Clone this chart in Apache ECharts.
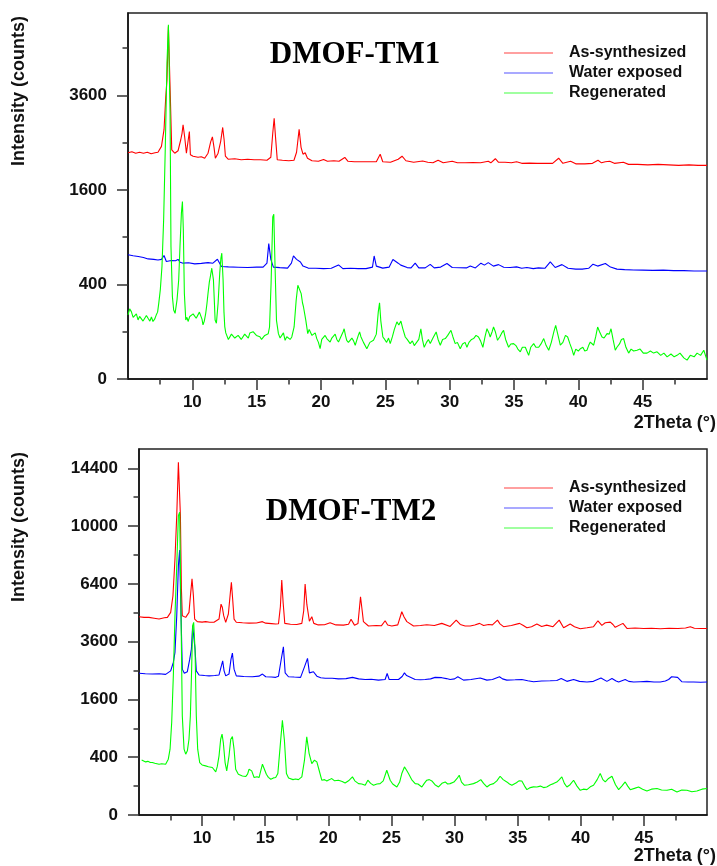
<!DOCTYPE html>
<html>
<head>
<meta charset="utf-8">
<script src="https://cdn.jsdelivr.net/npm/echarts@6/dist/echarts.min.js"></script>
<style>
html,body{margin:0;padding:0;background:#fff;}
#chart{width:717px;height:866px;}
</style>
</head>
<body>
<div id="chart"></div>
<script>
// ---- Data: [2Theta (deg), intensity (counts)] ----
const seriesNames = ['As-synthesized', 'Water exposed', 'Regenerated'];
const panelTitles = ['DMOF-TM1', 'DMOF-TM2'];
const xMajorTicks = [10, 15, 20, 25, 30, 35, 40, 45];
const xMinorTicks = [7.5, 12.5, 17.5, 22.5, 27.5, 32.5, 37.5, 42.5, 47.5];
const tm1YTicks = [0, 400, 1600, 3600];
const tm1YMinor = [100, 900, 2500, 4900];
const tm2YTicks = [0, 400, 1600, 3600, 6400, 10000, 14400];
const tm2YMinor = [100, 900, 2500, 4900, 8100, 12100];

const tm1Red = [[5.0,2290],[5.3,2310],[5.6,2280],[5.9,2300],[6.2,2280],[6.5,2300],[6.8,2270],[7.1,2290],[7.33,2300],[7.6,2420],[7.8,2780],[7.93,3530],[8.03,4010],[8.14,5560],[8.21,5610],[8.29,3570],[8.4,2350],[8.63,2280],[8.89,2330],[9.1,2560],[9.2,2700],[9.28,2890],[9.4,2630],[9.54,2280],[9.67,2250],[9.77,2740],[9.85,2250],[10.06,2220],[10.44,2200],[10.7,2210],[10.96,2180],[11.22,2280],[11.43,2520],[11.56,2620],[11.69,2390],[11.79,2180],[12.0,2280],[12.2,2520],[12.36,2830],[12.47,2560],[12.57,2220],[12.78,2160],[13.3,2170],[13.8,2150],[14.3,2160],[14.8,2150],[15.3,2150],[15.8,2140],[16.1,2200],[16.25,2700],[16.36,3040],[16.47,2600],[16.6,2150],[17.0,2140],[17.5,2130],[17.9,2140],[18.1,2300],[18.3,2790],[18.45,2400],[18.6,2260],[18.77,2290],[18.95,2180],[19.3,2130],[19.8,2120],[20.2,2155],[20.5,2120],[21.0,2130],[21.4,2120],[21.85,2195],[22.1,2120],[22.6,2110],[23.2,2110],[23.8,2110],[24.3,2110],[24.6,2260],[24.8,2110],[25.4,2100],[26.0,2160],[26.3,2220],[26.6,2130],[27.2,2100],[27.9,2125],[28.3,2100],[28.7,2090],[29.1,2140],[29.5,2090],[30.2,2120],[30.6,2090],[31.2,2090],[31.8,2095],[32.4,2090],[33.0,2120],[33.2,2090],[33.55,2170],[33.8,2100],[34.3,2100],[34.8,2090],[35.2,2110],[35.6,2080],[36.2,2085],[36.8,2080],[37.4,2080],[38.0,2080],[38.47,2180],[38.8,2080],[39.4,2120],[39.8,2070],[40.5,2070],[41.1,2080],[41.53,2140],[41.8,2090],[42.1,2110],[42.44,2120],[42.8,2080],[43.5,2100],[43.9,2060],[44.6,2060],[45.4,2050],[46.2,2060],[47.0,2050],[47.8,2040],[48.6,2050],[49.3,2040],[50.0,2040]];

const tm1Blue = [[5.0,690],[5.4,680],[5.8,671],[6.2,660],[6.56,645],[7.0,640],[7.33,634],[7.6,640],[7.8,682],[7.98,617],[8.37,628],[8.7,625],[8.89,640],[9.05,610],[9.28,600],[9.7,605],[10.19,593],[10.7,598],[11.22,606],[11.6,600],[11.95,641],[12.26,566],[12.8,562],[13.56,559],[14.3,556],[15.0,560],[15.5,560],[15.8,600],[15.94,820],[16.1,640],[16.3,560],[16.8,555],[17.4,550],[17.7,600],[17.86,678],[18.1,640],[18.4,613],[18.6,570],[19.0,550],[19.6,548],[20.2,545],[20.8,548],[21.36,582],[21.7,545],[22.3,548],[22.9,545],[23.5,545],[24.0,560],[24.13,677],[24.3,570],[24.8,550],[25.3,560],[25.59,638],[26.0,600],[26.2,580],[26.7,555],[27.0,552],[27.32,600],[27.6,552],[28.1,552],[28.49,588],[28.8,552],[29.3,560],[29.79,596],[30.2,556],[30.8,553],[31.3,552],[31.6,570],[32.0,552],[32.43,600],[32.7,580],[33.0,606],[33.4,570],[33.8,585],[34.2,558],[34.7,556],[35.2,562],[35.6,548],[36.0,556],[36.5,545],[36.9,552],[37.4,548],[37.82,613],[38.2,556],[38.73,585],[39.2,548],[39.8,540],[40.3,540],[40.8,548],[41.14,590],[41.5,570],[42.1,596],[42.5,560],[43.0,540],[43.6,535],[44.3,532],[45.0,530],[45.8,528],[46.6,530],[47.4,525],[48.2,525],[49.0,522],[50.0,522]];

const tm1Green = [[5.0,184],[5.13,220],[5.26,203],[5.4,170],[5.52,165],[5.65,190],[5.78,156],[5.9,175],[6.04,174],[6.17,150],[6.3,156],[6.43,180],[6.56,165],[6.7,150],[6.82,172],[6.94,148],[7.07,160],[7.2,184],[7.3,200],[7.39,256],[7.51,355],[7.64,566],[7.77,1133],[7.9,2418],[8.03,4468],[8.14,5613],[8.19,5613],[8.27,3161],[8.34,785],[8.45,304],[8.55,213],[8.66,193],[8.81,280],[8.94,439],[9.04,785],[9.15,1230],[9.23,1409],[9.3,995],[9.38,329],[9.49,156],[9.58,170],[9.67,148],[9.8,175],[9.93,165],[10.06,190],[10.19,184],[10.3,165],[10.44,174],[10.55,200],[10.65,193],[10.75,160],[10.83,131],[10.93,150],[11.04,193],[11.13,250],[11.22,329],[11.32,420],[11.4,469],[11.51,549],[11.64,439],[11.72,250],[11.77,156],[11.87,139],[12.0,256],[12.13,501],[12.22,650],[12.29,708],[12.39,440],[12.46,200],[12.52,123],[12.6,95],[12.7,87],[12.8,70],[12.91,74],[13.04,90],[13.17,87],[13.3,75],[13.43,68],[13.56,85],[13.69,80],[13.8,70],[13.94,74],[14.07,90],[14.2,83],[14.35,75],[14.47,95],[14.59,94],[14.72,100],[14.85,100],[14.98,85],[15.11,87],[15.25,80],[15.38,70],[15.5,74],[15.63,85],[15.76,87],[15.9,92],[16.0,121],[16.12,407],[16.25,1176],[16.33,1215],[16.43,562],[16.54,154],[16.69,92],[16.82,75],[16.95,79],[17.08,95],[17.21,67],[17.34,80],[17.47,85],[17.6,70],[17.73,79],[17.91,121],[18.07,277],[18.2,393],[18.33,379],[18.46,326],[18.56,260],[18.64,232],[18.72,243],[18.82,154],[18.97,92],[19.08,110],[19.16,106],[19.3,85],[19.42,79],[19.55,95],[19.67,73],[19.8,60],[19.93,41],[20.06,70],[20.19,67],[20.32,85],[20.45,73],[20.58,80],[20.71,61],[20.84,75],[20.97,79],[21.1,90],[21.23,70],[21.36,61],[21.5,75],[21.62,79],[21.72,100],[21.8,113],[21.9,85],[22.0,67],[22.13,60],[22.27,56],[22.4,75],[22.53,65],[22.66,51],[22.8,70],[22.9,85],[23.0,99],[23.1,80],[23.3,60],[23.56,41],[23.8,60],[24.08,67],[24.3,90],[24.45,200],[24.55,259],[24.65,150],[24.81,79],[24.95,70],[25.1,60],[25.25,75],[25.38,56],[25.55,80],[25.7,110],[25.9,146],[26.05,130],[26.21,150],[26.35,115],[26.55,79],[26.7,70],[26.93,56],[27.1,65],[27.25,50],[27.4,45],[27.6,70],[27.76,113],[27.88,70],[28.02,45],[28.2,60],[28.35,70],[28.49,56],[28.7,75],[28.95,99],[29.1,70],[29.27,51],[29.45,70],[29.66,73],[29.85,85],[30.1,106],[30.25,80],[30.43,56],[30.6,60],[30.82,41],[31.0,55],[31.2,60],[31.34,45],[31.5,60],[31.7,70],[31.86,73],[32.05,85],[32.24,79],[32.4,65],[32.58,45],[32.75,80],[32.9,113],[33.05,95],[33.15,79],[33.3,100],[33.41,121],[33.55,100],[33.72,67],[33.9,80],[34.05,95],[34.19,106],[34.35,70],[34.58,45],[34.75,55],[34.97,56],[35.15,50],[35.3,40],[35.49,33],[35.65,45],[35.88,45],[36.0,35],[36.14,25],[36.3,45],[36.53,56],[36.7,45],[36.92,45],[37.1,55],[37.31,73],[37.5,50],[37.7,37],[37.9,60],[38.1,100],[38.24,129],[38.4,90],[38.6,51],[38.8,60],[39.0,85],[39.17,79],[39.35,55],[39.5,40],[39.64,25],[39.8,40],[40.0,35],[40.16,41],[40.35,45],[40.5,35],[40.67,37],[40.8,50],[40.93,61],[41.05,55],[41.19,51],[41.35,80],[41.5,121],[41.65,100],[41.84,79],[42.0,75],[42.23,92],[42.4,90],[42.54,113],[42.7,70],[42.87,37],[43.0,45],[43.2,55],[43.35,70],[43.52,73],[43.7,45],[43.91,30],[44.1,40],[44.3,35],[44.56,37],[44.8,40],[45.05,30],[45.34,30],[45.6,35],[45.85,30],[46.12,33],[46.4,25],[46.65,30],[46.9,22],[47.2,28],[47.45,22],[47.67,25],[47.9,30],[48.2,20],[48.45,16],[48.7,25],[49.0,22],[49.23,30],[49.5,25],[49.75,37],[50.0,16]];

const tm2Red = [[5.0,4710],[5.4,4680],[5.79,4680],[6.2,4640],[6.59,4600],[7.0,4660],[7.25,4680],[7.51,4920],[7.69,5760],[7.85,7850],[7.99,10740],[8.12,14910],[8.2,15060],[8.28,10740],[8.36,6120],[8.43,4760],[8.7,4680],[8.96,4920],[9.1,5940],[9.2,6680],[9.31,5760],[9.41,4600],[9.62,4480],[10.0,4460],[10.28,4480],[10.6,4450],[10.94,4450],[11.34,4600],[11.5,5330],[11.6,5170],[11.71,4760],[11.87,4450],[12.08,4840],[12.24,5940],[12.32,6490],[12.42,5590],[12.53,4600],[12.71,4450],[13.2,4430],[13.72,4410],[14.3,4420],[14.78,4480],[15.04,4410],[15.5,4390],[15.83,4370],[16.05,4380],[16.2,5200],[16.31,6620],[16.42,5400],[16.55,4400],[17.0,4360],[17.5,4350],[17.9,4400],[18.05,5000],[18.16,6390],[18.3,5300],[18.5,4500],[18.69,4710],[18.85,4400],[19.2,4330],[19.7,4340],[20.14,4430],[20.6,4330],[21.2,4320],[21.6,4360],[21.8,4590],[22.07,4320],[22.35,4400],[22.55,5710],[22.7,4900],[22.78,4480],[23.18,4280],[23.8,4300],[24.2,4290],[24.5,4520],[24.7,4330],[25.03,4280],[25.5,4330],[25.82,4950],[26.0,4700],[26.22,4480],[26.75,4280],[27.3,4300],[27.8,4340],[28.4,4300],[28.99,4400],[29.65,4260],[30.13,4550],[30.45,4350],[30.84,4280],[31.24,4280],[31.6,4330],[31.98,4400],[32.3,4300],[32.69,4350],[33.0,4330],[33.4,4550],[33.6,4380],[33.88,4250],[34.5,4300],[35.15,4400],[35.45,4300],[35.73,4200],[36.1,4250],[36.52,4370],[36.9,4260],[37.3,4320],[37.8,4250],[38.29,4550],[38.64,4200],[39.16,4370],[39.5,4250],[39.96,4160],[40.5,4200],[41.01,4250],[41.36,4520],[41.67,4310],[41.94,4430],[42.34,4460],[42.55,4350],[42.73,4220],[43.34,4400],[43.66,4170],[44.3,4190],[44.98,4170],[45.6,4180],[46.3,4160],[47.0,4180],[47.7,4170],[48.3,4190],[48.68,4250],[49.0,4180],[49.5,4170],[50.0,4170]];

const tm2Blue = [[5.0,2410],[5.5,2390],[6.06,2380],[6.6,2390],[7.11,2370],[7.51,2490],[7.72,2790],[7.85,3170],[7.99,4760],[8.12,7450],[8.22,8420],[8.3,5590],[8.43,2550],[8.59,2410],[8.83,2460],[9.02,2910],[9.15,3300],[9.25,4290],[9.33,4370],[9.44,3300],[9.54,2490],[9.76,2350],[10.2,2330],[10.55,2320],[11.0,2330],[11.34,2350],[11.53,2670],[11.63,2850],[11.74,2490],[11.87,2320],[12.13,2380],[12.29,2910],[12.4,3140],[12.53,2550],[12.71,2320],[13.3,2300],[13.98,2290],[14.5,2310],[14.78,2380],[15.04,2290],[15.5,2280],[15.83,2270],[16.05,2310],[16.26,2880],[16.44,3390],[16.58,2420],[16.84,2290],[17.3,2280],[17.8,2270],[18.11,2630],[18.35,2940],[18.5,2420],[18.82,2460],[19.09,2310],[19.4,2260],[19.75,2240],[20.3,2240],[20.8,2220],[21.4,2230],[21.91,2270],[22.4,2220],[22.92,2200],[23.4,2210],[23.97,2180],[24.5,2200],[24.66,2400],[24.82,2200],[25.2,2200],[25.56,2200],[25.85,2300],[26.03,2420],[26.2,2330],[26.35,2290],[26.88,2200],[27.3,2190],[27.67,2200],[28.1,2220],[28.46,2270],[28.99,2260],[29.35,2230],[29.65,2200],[30.0,2220],[30.26,2290],[30.71,2180],[31.3,2200],[32.03,2250],[32.56,2180],[33.0,2200],[33.56,2290],[33.8,2220],[34.14,2180],[34.8,2190],[35.33,2200],[35.8,2160],[36.26,2130],[36.9,2150],[37.58,2160],[38.1,2170],[38.45,2230],[38.9,2140],[39.43,2200],[39.9,2140],[40.49,2120],[41.0,2140],[41.6,2250],[42.07,2140],[42.47,2230],[42.8,2150],[43.0,2120],[43.52,2200],[43.8,2140],[44.19,2120],[44.7,2130],[45.24,2140],[45.8,2120],[46.3,2120],[46.7,2150],[46.96,2200],[47.2,2290],[47.35,2310],[47.67,2270],[48.0,2130],[48.5,2120],[48.94,2120],[49.5,2110],[50.0,2120]];

const tm2Green = [[5.21,364],[5.35,350],[5.53,338],[5.7,345],[5.9,330],[6.06,330],[6.25,320],[6.4,325],[6.59,309],[6.8,315],[6.95,300],[7.11,309],[7.22,320],[7.32,373],[7.46,519],[7.59,1025],[7.72,2324],[7.85,4760],[7.99,7450],[8.12,10740],[8.22,10980],[8.33,4760],[8.43,1178],[8.57,519],[8.7,443],[8.83,493],[8.96,688],[9.07,1178],[9.17,2550],[9.25,4294],[9.33,4446],[9.44,3298],[9.54,1178],[9.65,519],[9.81,329],[10.0,300],[10.28,289],[10.5,280],[10.81,270],[10.95,250],[11.08,223],[11.2,280],[11.34,419],[11.47,688],[11.58,783],[11.68,629],[11.82,330],[11.95,233],[12.13,419],[12.27,688],[12.4,738],[12.53,519],[12.66,251],[12.87,199],[13.19,183],[13.45,177],[13.6,200],[13.72,251],[13.93,233],[14.12,168],[14.35,175],[14.51,168],[14.78,309],[14.91,330],[15.09,199],[15.25,170],[15.44,153],[15.65,165],[15.83,168],[16.0,206],[16.18,556],[16.36,1077],[16.52,670],[16.68,206],[16.85,165],[16.97,159],[17.2,150],[17.4,155],[17.63,150],[17.9,174],[18.11,360],[18.29,732],[18.48,452],[18.69,317],[18.9,360],[19.09,338],[19.27,240],[19.48,145],[19.7,150],[19.88,139],[20.1,150],[20.27,159],[20.5,140],[20.8,145],[21.1,135],[21.33,123],[21.6,140],[21.91,174],[22.1,140],[22.39,118],[22.65,115],[22.92,106],[23.13,145],[23.35,120],[23.58,106],[23.85,115],[24.1,118],[24.35,140],[24.63,240],[24.9,145],[25.1,115],[25.43,94],[25.65,130],[25.82,206],[26.03,277],[26.2,240],[26.35,206],[26.6,150],[26.88,118],[27.1,115],[27.41,94],[27.6,120],[27.8,145],[28.0,150],[28.2,139],[28.45,110],[28.73,94],[29.0,120],[29.26,131],[29.45,115],[29.65,118],[29.95,130],[30.2,160],[30.37,189],[30.55,130],[30.79,106],[31.1,110],[31.5,118],[31.8,130],[32.08,150],[32.3,120],[32.56,94],[32.8,110],[33.09,118],[33.35,140],[33.61,180],[33.85,150],[34.14,131],[34.35,115],[34.54,106],[34.9,125],[35.1,140],[35.33,139],[35.55,100],[35.73,77],[36.0,90],[36.25,95],[36.52,94],[36.8,100],[37.05,90],[37.3,94],[37.6,110],[37.84,118],[38.1,130],[38.3,150],[38.5,174],[38.7,120],[38.9,94],[39.15,110],[39.43,145],[39.7,100],[39.96,73],[40.2,80],[40.49,77],[40.75,95],[41.01,106],[41.3,150],[41.54,206],[41.75,150],[41.94,131],[42.2,160],[42.47,180],[42.75,110],[43.0,77],[43.25,100],[43.52,131],[43.72,100],[43.92,77],[44.25,85],[44.58,94],[44.9,80],[45.24,69],[45.6,80],[46.04,84],[46.4,75],[46.83,73],[47.2,80],[47.62,64],[48.0,75],[48.41,73],[48.8,65],[49.2,69],[49.6,80],[50.0,84]];

// ---- Chart construction ----
const FONT = '"Liberation Sans", Arial, sans-serif';
const AXIS_COLOR = '#111';
const lineColors = ['#ff0000', '#0000ff', '#00ff00'];
const legendColors = ['#ff8080', '#8c8cff', '#80ff80'];
const sq = v => Math.sqrt(v);

const panels = [
  { grid: { left: 128, top: 13, width: 579, height: 366 }, yMax: 77.4,
    yTicks: tm1YTicks, yMinor: tm1YMinor, data: [tm1Red, tm1Blue, tm1Green],
    titlePos: [355, 55], legendTop: 38, yNamePos: [19, 91], xNameY: 423 },
  { grid: { left: 139, top: 449, width: 568, height: 366 }, yMax: 126.7,
    yTicks: tm2YTicks, yMinor: tm2YMinor, data: [tm2Red, tm2Blue, tm2Green],
    titlePos: [351, 512], legendTop: 473, yNamePos: [19, 527], xNameY: 856 }
];

const grids = [], xAxes = [], yAxes = [], series = [], legends = [], graphics = [];

panels.forEach((p, i) => {
  grids.push(Object.assign({ show: true, borderColor: '#222', borderWidth: 1.5, backgroundColor: 'transparent' }, p.grid));
  const xBase = { type: 'value', gridIndex: i, min: 5, max: 50, position: 'bottom', splitLine: { show: false } };
  xAxes.push(Object.assign({}, xBase, {
    axisLine: { show: true, onZero: false, lineStyle: { color: AXIS_COLOR, width: 1.5 } },
    axisTick: { show: true, length: 11, customValues: xMajorTicks, lineStyle: { color: '#333', width: 1.5 } },
    axisLabel: { show: true, customValues: xMajorTicks, margin: 15, color: '#111', fontSize: 17, fontWeight: 'bold', fontFamily: FONT }
  }));
  xAxes.push(Object.assign({}, xBase, {
    axisLine: { show: false, onZero: false },
    axisTick: { show: true, length: 5.5, customValues: xMinorTicks, lineStyle: { color: '#333', width: 1.5 } },
    axisLabel: { show: false }
  }));
  const yBase = { type: 'value', gridIndex: i, min: 0, max: p.yMax, position: 'left', splitLine: { show: false } };
  const yMajor = p.yTicks.map(sq);
  yAxes.push(Object.assign({}, yBase, {
    axisLine: { show: true, onZero: false, lineStyle: { color: AXIS_COLOR, width: 1.5 } },
    axisTick: { show: true, length: 11, customValues: yMajor, lineStyle: { color: '#333', width: 1.5 } },
    axisLabel: { show: true, customValues: yMajor, margin: 21, color: '#111', fontSize: 17, fontWeight: 'bold', fontFamily: FONT,
      formatter: v => String(Math.round(v * v)) }
  }));
  yAxes.push(Object.assign({}, yBase, {
    axisLine: { show: false, onZero: false },
    axisTick: { show: true, length: 5.5, customValues: p.yMinor.map(sq), lineStyle: { color: '#333', width: 1.5 } },
    axisLabel: { show: false }
  }));
  p.data.forEach((arr, k) => {
    series.push({
      type: 'line', name: seriesNames[k], xAxisIndex: i * 2, yAxisIndex: i * 2,
      data: arr.map(d => [d[0], sq(d[1])]),
      showSymbol: false, symbol: 'none', sampling: null, animation: false,
      lineStyle: { color: lineColors[k], width: 1.1 }, itemStyle: { color: lineColors[k] },
      z: 2 + k
    });
  });
  legends.push({
    orient: 'vertical', left: 499, top: p.legendTop, itemWidth: 49, itemHeight: 1.5, itemGap: 0,
    icon: 'rect', selectedMode: false,
    textStyle: { color: '#111', fontSize: 16, fontWeight: 'bold', fontFamily: FONT, lineHeight: 20, padding: [0, 0, 0, 11] },
    data: seriesNames.map((n, k) => ({ name: n, itemStyle: { color: legendColors[k] } }))
  });
  graphics.push({
    type: 'text', x: p.titlePos[0], y: p.titlePos[1],
    style: { text: panelTitles[i], fill: '#000', font: 'bold 31px "Liberation Serif", "Times New Roman", serif',
      textAlign: 'center', textVerticalAlign: 'middle' }
  });
  graphics.push({
    type: 'text', x: p.yNamePos[0], y: p.yNamePos[1], rotation: Math.PI / 2,
    style: { text: 'Intensity (counts)', fill: '#111', font: 'bold 18px ' + FONT,
      textAlign: 'center', textVerticalAlign: 'middle' }
  });
  graphics.push({
    type: 'text', x: 716, y: p.xNameY,
    style: { text: '2Theta (°)', fill: '#111', font: 'bold 18px ' + FONT,
      textAlign: 'right', textVerticalAlign: 'middle' }
  });
});

const chart = echarts.init(document.getElementById('chart'), null, { renderer: 'canvas' });
chart.setOption({
  backgroundColor: '#fff',
  animation: false,
  grid: grids,
  xAxis: xAxes,
  yAxis: yAxes,
  legend: legends,
  series: series,
  graphic: graphics
});
</script>
</body>
</html>
